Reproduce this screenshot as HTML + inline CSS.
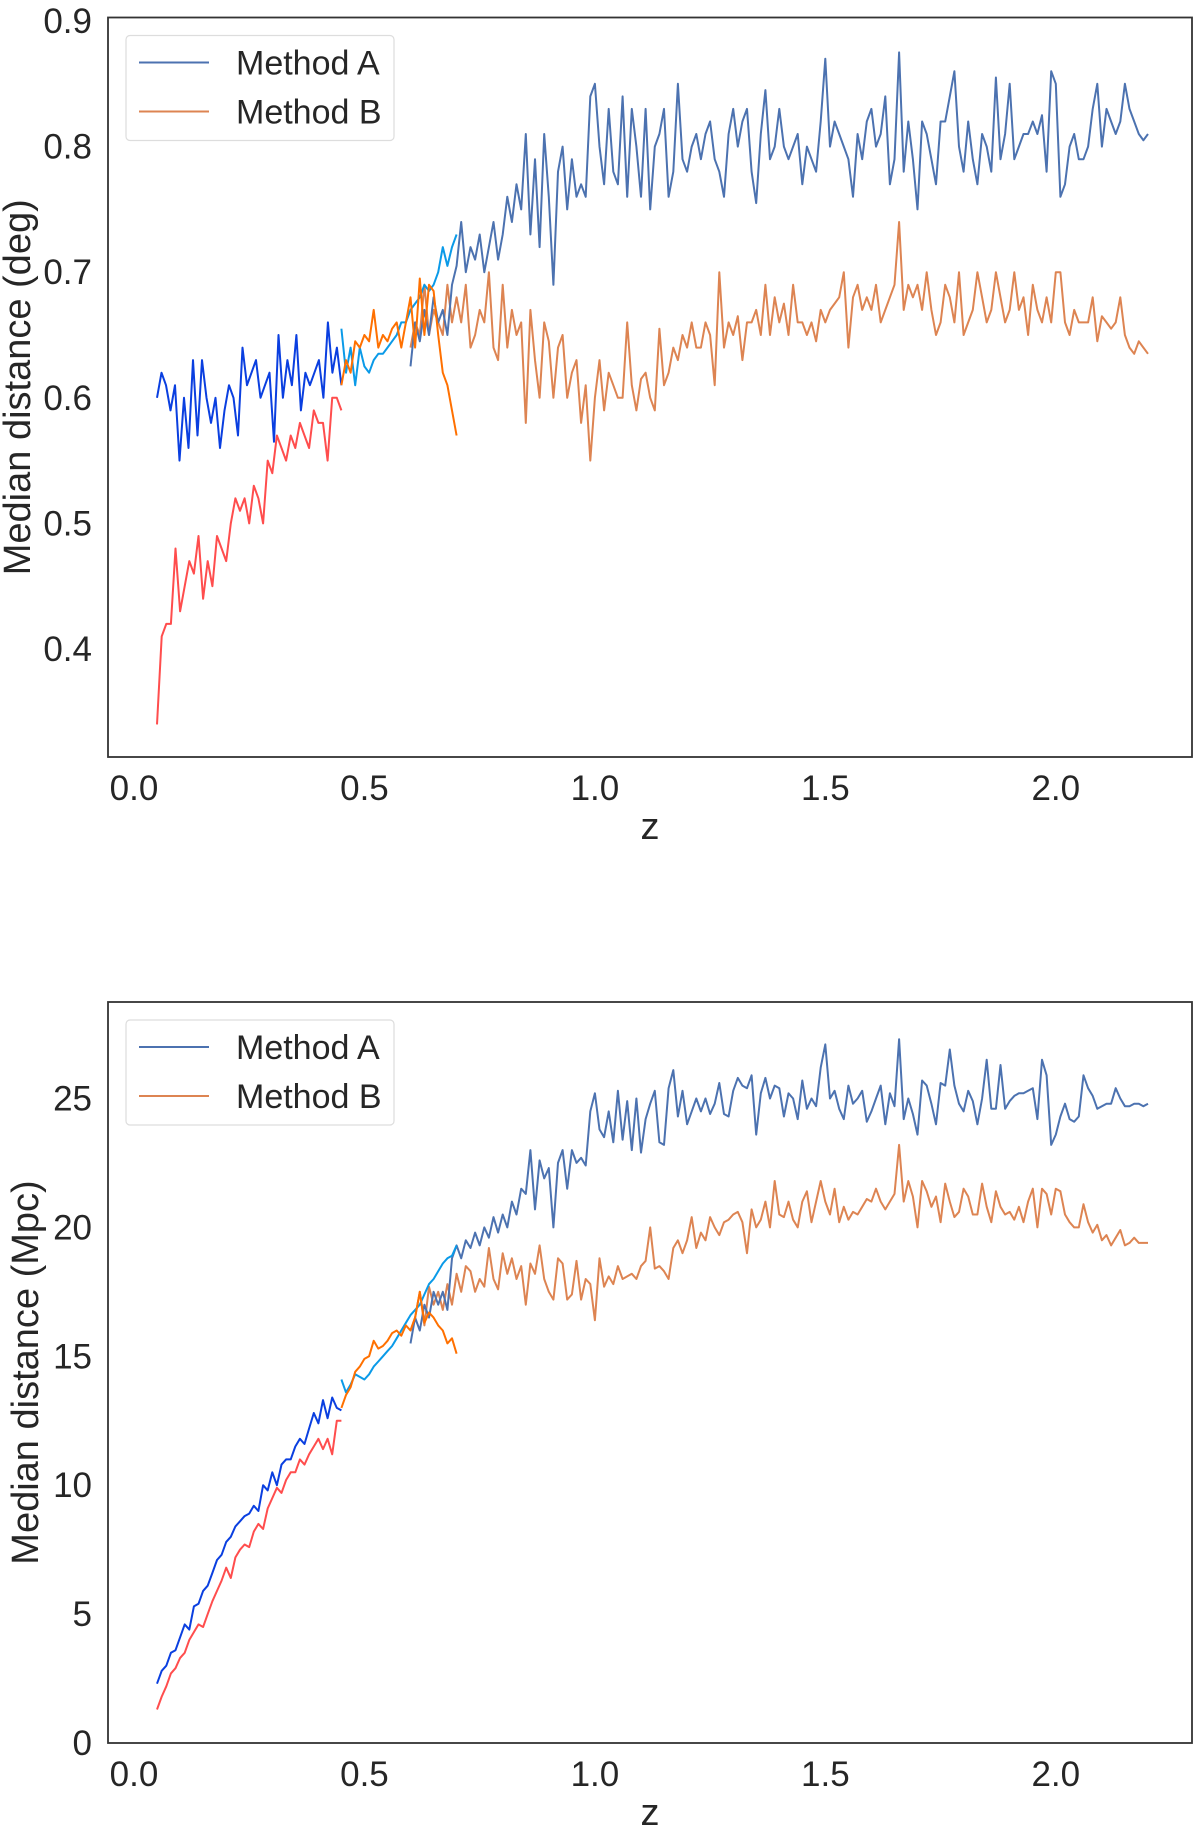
<!DOCTYPE html>
<html><head><meta charset="utf-8"><style>
html,body{margin:0;padding:0;background:#fff;}
svg{display:block;font-family:"Liberation Sans",sans-serif;}
</style></head><body>
<svg id="chart" width="1200" height="1830" viewBox="0 0 1200 1830" xmlns="http://www.w3.org/2000/svg"></svg>
<script>
const xTicks=[0.0,0.5,1.0,1.5,2.0];
const xTickLabels=["0.0","0.5","1.0","1.5","2.0"];
const yTicksTop=[0.4,0.5,0.6,0.7,0.8,0.9];
const yTickLabelsTop=["0.4","0.5","0.6","0.7","0.8","0.9"];
const yTicksBot=[0,5,10,15,20,25];
const yTickLabelsBot=["0","5","10","15","20","25"];
const lowZ=[0.05,0.45];
const midZ=[0.45,0.70];
const mainZ=[0.60,2.20];
const degLowA=[0.6,0.62,0.61,0.59,0.61,0.55,0.6,0.56,0.63,0.57,0.63,0.6,0.58,0.6,0.56,0.59,0.61,0.6,0.57,0.64,0.61,0.62,0.63,0.6,0.61,0.62,0.565,0.65,0.6,0.63,0.61,0.65,0.59,0.62,0.61,0.62,0.63,0.6,0.66,0.62,0.64,0.61];
const degMidA=[0.655,0.62,0.64,0.61,0.64,0.625,0.62,0.63,0.635,0.635,0.64,0.645,0.65,0.66,0.66,0.67,0.675,0.68,0.69,0.685,0.69,0.70,0.72,0.705,0.72,0.73];
const degLowB=[0.34,0.41,0.42,0.42,0.48,0.43,0.45,0.47,0.46,0.49,0.44,0.47,0.45,0.49,0.48,0.47,0.50,0.52,0.51,0.52,0.50,0.53,0.52,0.50,0.55,0.54,0.57,0.56,0.55,0.57,0.56,0.58,0.57,0.56,0.59,0.58,0.58,0.55,0.60,0.60,0.59];
const degMidB=[0.61,0.63,0.62,0.645,0.64,0.65,0.645,0.67,0.64,0.65,0.645,0.655,0.66,0.64,0.66,0.68,0.64,0.695,0.65,0.69,0.685,0.65,0.62,0.61,0.59,0.57];
const degMainA=[0.625,0.66,0.645,0.67,0.65,0.68,0.66,0.67,0.65,0.69,
0.705,0.74,0.70,0.72,0.71,0.73,0.70,0.72,0.74,0.71,
0.73,0.76,0.74,0.77,0.75,0.81,0.73,0.79,0.72,0.81,
0.76,0.69,0.78,0.80,0.75,0.79,0.76,0.77,0.76,0.84,
0.85,0.80,0.77,0.83,0.78,0.77,0.84,0.76,0.83,0.80,
0.76,0.83,0.75,0.80,0.81,0.83,0.76,0.78,0.85,0.79,
0.78,0.80,0.81,0.79,0.81,0.82,0.79,0.78,0.76,0.81,
0.83,0.80,0.82,0.83,0.78,0.755,0.81,0.845,0.79,0.80,
0.83,0.80,0.79,0.80,0.81,0.77,0.80,0.79,0.78,0.82,
0.87,0.80,0.82,0.81,0.80,0.79,0.76,0.81,0.79,0.82,
0.83,0.80,0.81,0.84,0.77,0.79,0.875,0.78,0.82,0.79,
0.75,0.82,0.81,0.79,0.77,0.82,0.82,0.84,0.86,0.80,
0.78,0.82,0.79,0.77,0.81,0.80,0.78,0.855,0.79,0.81,
0.85,0.79,0.80,0.81,0.81,0.82,0.81,0.825,0.78,0.86,
0.85,0.76,0.77,0.80,0.81,0.79,0.79,0.80,0.83,0.85,
0.80,0.83,0.82,0.81,0.82,0.85,0.83,0.82,0.81,0.805,0.81];
const degMainB=[0.64,0.66,0.65,0.69,0.65,0.67,0.66,0.65,0.69,0.66,
0.68,0.66,0.69,0.64,0.65,0.67,0.66,0.70,0.64,0.63,
0.69,0.64,0.67,0.65,0.66,0.58,0.67,0.63,0.60,0.66,
0.645,0.60,0.64,0.65,0.60,0.62,0.63,0.58,0.61,0.55,
0.60,0.63,0.59,0.62,0.61,0.60,0.60,0.66,0.61,0.59,
0.615,0.62,0.60,0.59,0.655,0.61,0.62,0.64,0.63,0.65,
0.64,0.66,0.64,0.64,0.66,0.65,0.61,0.70,0.64,0.66,
0.65,0.665,0.63,0.66,0.66,0.67,0.65,0.69,0.65,0.68,
0.66,0.675,0.65,0.69,0.66,0.66,0.65,0.66,0.645,0.67,
0.66,0.67,0.675,0.68,0.70,0.64,0.68,0.69,0.67,0.68,
0.67,0.69,0.66,0.67,0.68,0.69,0.74,0.67,0.69,0.68,
0.69,0.67,0.70,0.67,0.65,0.66,0.69,0.68,0.66,0.70,
0.65,0.66,0.67,0.70,0.68,0.66,0.67,0.70,0.68,0.66,
0.67,0.70,0.67,0.68,0.65,0.69,0.67,0.66,0.68,0.66,
0.70,0.70,0.66,0.65,0.67,0.66,0.66,0.66,0.68,0.645,
0.665,0.66,0.655,0.66,0.68,0.65,0.64,0.635,0.645,0.64,0.635];
const mpcLowA=[2.3,2.8,3.0,3.5,3.6,4.1,4.6,4.4,5.3,5.4,5.9,6.1,6.6,7.1,7.3,7.8,8.0,8.4,8.6,8.8,8.9,9.2,9.0,10.0,9.8,10.5,10.0,10.8,11.0,11.0,11.5,11.8,11.6,12.2,12.8,12.4,13.3,12.6,13.4,13.0,12.9];
const mpcMidA=[14.1,13.6,13.9,14.3,14.2,14.1,14.3,14.6,14.8,15.0,15.2,15.4,15.7,16.0,16.3,16.6,16.8,17.0,17.4,17.8,18.0,18.3,18.6,18.8,18.9,19.3];
const mpcLowB=[1.3,1.8,2.2,2.7,2.9,3.3,3.5,4.0,4.3,4.6,4.5,5.0,5.5,5.9,6.3,6.8,6.4,7.2,7.5,7.7,7.6,8.2,8.5,8.3,9.1,9.5,9.9,9.7,10.2,10.5,10.5,11.0,10.8,11.2,11.5,11.8,11.4,11.8,11.2,12.5,12.5];
const mpcMidB=[13.0,13.5,13.8,14.4,14.6,14.9,15.0,15.6,15.3,15.4,15.6,15.9,16.0,15.8,16.2,16.0,16.5,17.5,16.3,16.7,16.5,16.2,16.0,15.5,15.7,15.1];
const mpcMainA=[15.5,16.5,16.0,17.0,16.5,17.5,17.0,17.5,16.8,18.8,
19.3,18.8,19.5,19.2,19.8,19.3,20.0,19.6,20.4,19.8,
20.5,20.0,21.0,20.5,21.5,21.3,23.0,20.7,22.6,21.9,
22.3,20.0,22.5,23.0,21.5,23.0,22.5,22.7,22.4,24.5,
25.2,23.8,23.5,24.5,23.3,25.3,23.4,24.9,23.0,25.0,
22.9,24.2,24.8,25.3,23.3,23.2,25.4,26.1,24.3,25.3,
24.0,24.5,25.0,24.5,25.0,24.4,24.8,25.6,24.4,24.3,
25.3,25.8,25.5,25.4,25.9,23.6,25.2,25.8,25.0,25.5,
25.4,24.3,25.2,25.0,24.2,25.7,24.6,25.0,24.7,26.2,
27.1,25.0,25.3,24.6,24.2,25.5,24.8,25.0,25.3,24.1,
24.5,25.0,25.5,24.0,25.2,24.7,27.3,24.2,25.0,24.4,
23.6,25.7,25.5,24.8,24.0,25.6,25.5,26.9,25.5,24.8,
24.5,25.3,24.9,24.0,25.0,26.5,24.6,24.6,26.3,24.6,
24.9,25.1,25.2,25.2,25.3,25.4,24.2,26.5,25.9,23.2,
23.6,24.3,24.8,24.2,24.1,24.3,25.9,25.4,25.1,24.6,
24.7,24.8,24.8,25.4,25.0,24.7,24.7,24.8,24.8,24.7,24.8];
const mpcMainB=[16.0,16.5,17.5,16.2,17.7,17.0,17.5,16.8,17.8,17.0,
18.2,17.5,18.5,18.3,17.5,18.0,17.7,19.2,18.0,17.6,
19.0,18.2,18.8,18.0,18.5,17.0,18.6,18.2,19.3,18.0,
17.5,17.2,18.8,18.6,17.2,17.4,18.7,17.2,18.0,17.8,
16.4,18.8,17.7,18.1,17.8,18.5,18.0,18.1,18.2,18.0,
18.5,18.7,20.0,18.4,18.5,18.3,18.0,19.2,19.5,19.0,
19.5,20.4,19.2,19.8,19.5,20.4,20.0,19.7,20.2,20.3,
20.5,20.6,20.2,19.0,20.7,20.0,20.3,21.0,20.0,21.8,
20.5,20.4,21.0,20.3,20.0,21.0,21.4,20.2,21.0,21.8,
21.0,20.5,21.5,20.2,20.8,20.3,20.6,20.5,20.8,21.1,
21.0,21.5,21.0,20.7,21.0,21.3,23.2,21.0,21.8,21.2,
20.0,21.8,21.4,20.8,21.2,20.2,21.7,21.0,20.4,20.6,
21.5,21.2,20.5,20.5,21.7,20.8,20.2,21.4,20.8,20.5,
20.6,20.3,20.8,20.2,21.0,21.5,20.0,21.5,21.3,20.5,
21.5,21.4,20.5,20.2,20.0,20.0,20.9,20.2,19.8,20.1,
19.5,19.7,19.3,19.6,19.9,19.3,19.4,19.6,19.4,19.4,19.4];

const NS="http://www.w3.org/2000/svg";
const svg=document.getElementById('chart');
function mk(tag,attrs,parent){const e=document.createElementNS(NS,tag);for(const k in attrs)e.setAttribute(k,attrs[k]);(parent||svg).appendChild(e);return e;}
const L=108,R=1192,X0=134,XS=460.9;
function xs(z){return X0+z*XS;}

function panel(cfg){
  const g=mk('g',{});
  
  
  const ys=v=>cfg.y0+(v-cfg.v0)*cfg.ppu;
  function series(vals,range,color,name){
    const n=vals.length,step=(range[1]-range[0])/(n-1);
    const pts=vals.map((v,i)=>xs(range[0]+i*step).toFixed(1)+','+ys(v).toFixed(1)).join(' ');
    const p=mk('polyline',{points:pts,fill:'none',stroke:color,'stroke-width':2,'stroke-linejoin':'round'},g);
    
    
  }
  cfg.series.forEach(s=>series(s[0],s[1],s[2],s[3]));
  const fr=mk('rect',{x:L,y:cfg.top,width:R-L,height:cfg.bot-cfg.top,fill:'none',stroke:'#333','stroke-width':1.8},g);
  
  
  xTicks.forEach((t,i)=>{
    const tx=mk('text',{x:xs(t),y:cfg.bot+43,'text-anchor':'middle','font-size':35,fill:'#262626'},g);
    tx.textContent=xTickLabels[i];
    
    
  });
  cfg.yt.forEach((t,i)=>{
    const tx=mk('text',{x:92,y:ys(t)+12,'text-anchor':'end','font-size':35,fill:'#262626'},g);
    tx.textContent=cfg.ytl[i];
    
    
  });
  const xl=mk('text',{x:650,y:cfg.bot+82,'text-anchor':'middle','font-size':38,fill:'#262626'},g);
  xl.textContent='z';
  
  
  const cy=(cfg.top+cfg.bot)/2;
  const yl=mk('text',{x:0,y:0,'text-anchor':'middle','font-size':38,fill:'#262626',transform:`translate(${cfg.ylx},${cy}) rotate(-90)`},g);
  yl.textContent=cfg.ylabel;
  
  
  const lg=mk('g',{},g);
  
  
  mk('rect',{x:126,y:cfg.top+18,width:268,height:105,rx:4,fill:'#fff',stroke:'#ddd','stroke-width':1.2},lg);
  [['Method A','#4c72b0',0],['Method B','#dd8452',1]].forEach(e=>{
    const yy=cfg.top+45+e[2]*49;
    const ln=mk('line',{x1:139,x2:209,y1:yy,y2:yy,stroke:e[1],'stroke-width':2},lg);
    
    
    const t=mk('text',{x:236,y:yy+12,'font-size':34,fill:'#262626'},lg);
    t.textContent=e[0];
    
    
  });
}
panel({name:'deg-panel',top:17.5,bot:757,y0:649,v0:0.4,ppu:-1256,yt:yTicksTop,ytl:yTickLabelsTop,ylabel:'Median distance (deg)',ylx:30,
 series:[[degMainB,mainZ,'#dd8452','method-b-line'],[degMainA,mainZ,'#4c72b0','method-a-line'],
 [degLowB,lowZ,'#ff4d4d','method-b-low-z'],[degLowA,lowZ,'#0a3fe0','method-a-low-z'],
 [degMidA,midZ,'#0a9ae8','method-a-mid-z'],[degMidB,midZ,'#ff7000','method-b-mid-z']]});
panel({name:'mpc-panel',top:1002,bot:1743,y0:1743,v0:0,ppu:-25.78,yt:yTicksBot,ytl:yTickLabelsBot,ylabel:'Median distance (Mpc)',ylx:38,
 series:[[mpcMainB,mainZ,'#dd8452','method-b-line'],[mpcMainA,mainZ,'#4c72b0','method-a-line'],
 [mpcLowB,lowZ,'#ff4d4d','method-b-low-z'],[mpcLowA,lowZ,'#0a3fe0','method-a-low-z'],
 [mpcMidA,midZ,'#0a9ae8','method-a-mid-z'],[mpcMidB,midZ,'#ff7000','method-b-mid-z']]});
</script>
</body></html>
